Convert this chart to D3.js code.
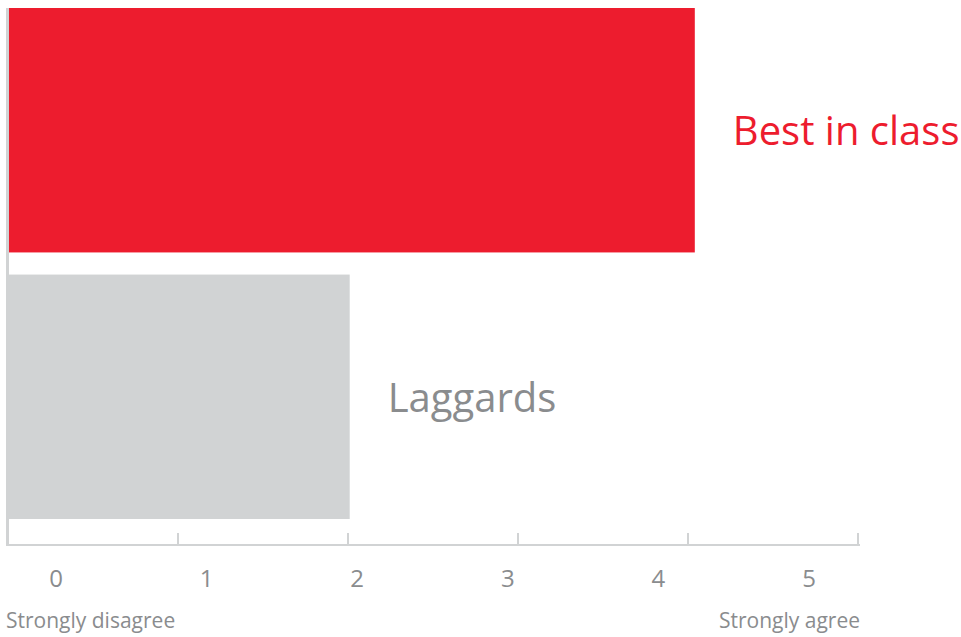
<!DOCTYPE html>
<html><head><meta charset="utf-8">
<script src="https://cdn.jsdelivr.net/npm/d3@7"></script>
<style>body{margin:0;background:#fff}svg{display:block}text{font-family:"Open Sans",sans-serif}</style>
</head><body>
<svg id="c" width="961" height="637"></svg>
<script>
const categories = ["Best in class", "Laggards"];
const values = [4.04, 2.01];
const tickValues = [0, 1, 2, 3, 4, 5];
const endLabels = ["Strongly disagree", "Strongly agree"];

const colors = ["#ED1C2E", "#D1D3D4"];
const labelColors = ["#ED1C2E", "#8A8C8E"];

const svg = d3.select("#c");
const x = d3.scaleLinear().domain([0, 5]).range([8, 858]);
const xl = d3.scaleLinear().domain([0, 5]).range([56, 809]);
const y = d3.scaleBand().domain(categories).range([8, 519]).paddingInner(0.083).paddingOuter(0);

// bars
svg.selectAll("rect.bar").data(categories).join("rect")
  .attr("class","bar")
  .attr("x", x(0) + 1)
  .attr("y", d => y(d))
  .attr("width", (d,i) => x(values[i]) - x(0) - 1)
  .attr("height", y.bandwidth())
  .attr("fill", (d,i) => colors[i]);

// vertical axis line
svg.append("line").attr("x1", 7.5).attr("x2", 7.5).attr("y1", 8).attr("y2", 546)
  .attr("stroke", "#d1d3d4").attr("stroke-width", 3);

// horizontal axis
const axisY = 545;
svg.append("line").attr("x1", 6).attr("x2", 860).attr("y1", axisY).attr("y2", axisY)
  .attr("stroke", "#d1d3d4").attr("stroke-width", 2);
svg.selectAll("line.tick").data(tickValues.slice(1)).join("line")
  .attr("class","tick")
  .attr("x1", d => x(d)).attr("x2", d => x(d))
  .attr("y1", axisY - 12).attr("y2", axisY)
  .attr("stroke", "#d1d3d4").attr("stroke-width", 2);

svg.selectAll("text.tl").data(tickValues).join("text")
  .attr("class","tl")
  .attr("x", d => xl(d)).attr("y", 587)
  .attr("text-anchor", "middle")
  .attr("fill", "#8a8c8e").attr("font-size", 24)
  .text(d => d);

svg.append("text").attr("x", 6).attr("y", 628).attr("fill", "#8a8c8e").attr("font-size", 21)
  .text(endLabels[0]);
svg.append("text").attr("x", 860).attr("y", 628).attr("text-anchor", "end").attr("fill", "#8a8c8e").attr("font-size", 21)
  .text(endLabels[1]);

// bar labels
svg.selectAll("text.bl").data(categories).join("text")
  .attr("class","bl")
  .attr("x", (d,i) => x(values[i]) + 38)
  .attr("y", d => y(d) + y.bandwidth()/2)
  .attr("dy", "0.37em")
  .attr("fill", (d,i) => labelColors[i])
  .attr("font-size", 40)
  .text(d => d);
</script>
</body></html>
